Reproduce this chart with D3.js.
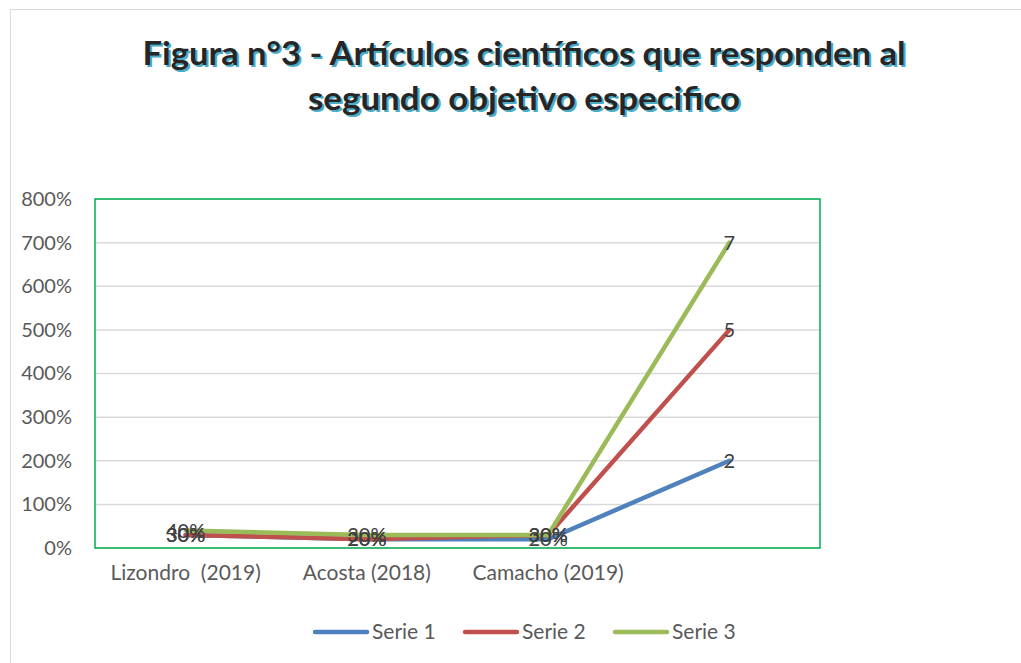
<!DOCTYPE html>
<html>
<head>
<meta charset="utf-8">
<script src="https://cdn.jsdelivr.net/npm/d3@7.9.0/dist/d3.min.js"></script>
<style>
  body { margin: 0; background: #fff; }
  svg { display: block; font-family: Lato, "Open Sans", sans-serif; }
</style>
</head>
<body>
<svg id="chart" width="1021" height="663"></svg>
<script>
const categories = ['Lizondro  (2019)', 'Acosta (2018)', 'Camacho (2019)', ''];
const serie1 = [0.3, 0.2, 0.2, 2];
const serie2 = [0.3, 0.2, 0.3, 5];
const serie3 = [0.4, 0.3, 0.3, 7];
const seriesNames = ['Serie 1', 'Serie 2', 'Serie 3'];
const yTicks = [0, 1, 2, 3, 4, 5, 6, 7, 8];
const titleLines = ['Figura n°3 - Artículos científicos que responden al', 'segundo objetivo especifico'];

const colors = ['#4f81bd', '#c0504d', '#9bbb59'];
const allSeries = [serie1, serie2, serie3];

const svg = d3.select('#chart');

// outer chart frame
svg.append('rect')
  .attr('x', 10.5).attr('y', 9.5)
  .attr('width', 1100).attr('height', 700)
  .attr('fill', 'none').attr('stroke', '#d9d9d9');

// title with blue shadow
const title = svg.append('g');
titleLines.forEach((t, i) => {
  const ty = 65 + i * 45;
  const len = i === 0 ? 763 : 432;
  title.append('text')
    .attr('x', 526).attr('y', ty + 2)
    .attr('text-anchor', 'middle')
    .attr('font-size', 33).attr('font-weight', 'bold')
    .attr('textLength', len).attr('lengthAdjust', 'spacingAndGlyphs')
    .attr('fill', '#4bacc6')
    .text(t);
  title.append('text')
    .attr('x', 524).attr('y', ty)
    .attr('text-anchor', 'middle')
    .attr('font-size', 33).attr('font-weight', 'bold')
    .attr('textLength', len).attr('lengthAdjust', 'spacingAndGlyphs')
    .attr('fill', '#262626')
    .text(t);
});

const plotLeft = 95, plotRight = 820, plotTop = 199, plotBottom = 548;

const x = d3.scaleBand().domain(d3.range(categories.length)).range([plotLeft, plotRight]);
const y = d3.scaleLinear().domain([0, 8]).range([plotBottom, plotTop]);

// gridlines
svg.append('g')
  .selectAll('line')
  .data(yTicks)
  .join('line')
  .attr('x1', plotLeft).attr('x2', plotRight)
  .attr('y1', d => y(d)).attr('y2', d => y(d))
  .attr('stroke', '#d9d9d9').attr('stroke-width', 1.5);

// y axis labels
const yAxis = d3.axisLeft(y).tickValues(yTicks).tickFormat(d3.format('.0%')).tickSize(0).tickPadding(0);
svg.append('g')
  .attr('transform', `translate(72,0)`)
  .call(yAxis)
  .call(g => g.select('.domain').remove())
  .call(g => g.selectAll('text')
    .attr('font-family', 'Lato, sans-serif')
    .attr('font-size', 20).attr('fill', '#595959'));

// plot border
svg.append('rect')
  .attr('x', plotLeft).attr('y', plotTop)
  .attr('width', plotRight - plotLeft).attr('height', plotBottom - plotTop)
  .attr('fill', 'none').attr('stroke', '#00b050').attr('stroke-width', 1.5);

// category labels
const xAxis = d3.axisBottom(x).tickFormat(i => categories[i]).tickSize(0).tickPadding(0);
svg.append('g')
  .attr('transform', `translate(0,565)`)
  .call(xAxis)
  .call(g => g.select('.domain').remove())
  .call(g => g.selectAll('text')
    .attr('font-family', 'Lato, sans-serif')
    .attr('font-size', 21).attr('fill', '#595959')
    .style('white-space', 'pre'));

// lines
const line = d3.line()
  .x((d, i) => x(i) + x.bandwidth() / 2)
  .y(d => y(d));

allSeries.forEach((s, k) => {
  svg.append('path')
    .datum(s)
    .attr('d', line)
    .attr('fill', 'none')
    .attr('stroke', colors[k])
    .attr('stroke-width', 4.5)
    .attr('stroke-linejoin', 'round')
    .attr('stroke-linecap', 'round');
});

// data labels, centered on points (they overlap, as in the source)
const fmtLabel = v => v >= 1 ? d3.format('d')(v) : d3.format('.0%')(v);
allSeries.forEach((s, k) => {
  svg.append('g')
    .selectAll('text')
    .data(s)
    .join('text')
    .attr('x', (d, i) => x(i) + x.bandwidth() / 2)
    .attr('y', d => y(d))
    .attr('dy', '0.35em')
    .attr('text-anchor', 'middle')
    .attr('font-size', 20)
    .attr('fill', '#404040')
    .text(fmtLabel);
});

// legend
const legendX = [315, 465, 615];
const legend = svg.append('g');
seriesNames.forEach((name, k) => {
  legend.append('line')
    .attr('x1', legendX[k]).attr('x2', legendX[k] + 52)
    .attr('y1', 632).attr('y2', 632)
    .attr('stroke', colors[k]).attr('stroke-width', 4.5)
    .attr('stroke-linecap', 'round');
  legend.append('text')
    .attr('x', legendX[k] + 57).attr('y', 632)
    .attr('dy', '0.35em')
    .attr('font-size', 21).attr('fill', '#595959')
    .text(name);
});
</script>
</body>
</html>
